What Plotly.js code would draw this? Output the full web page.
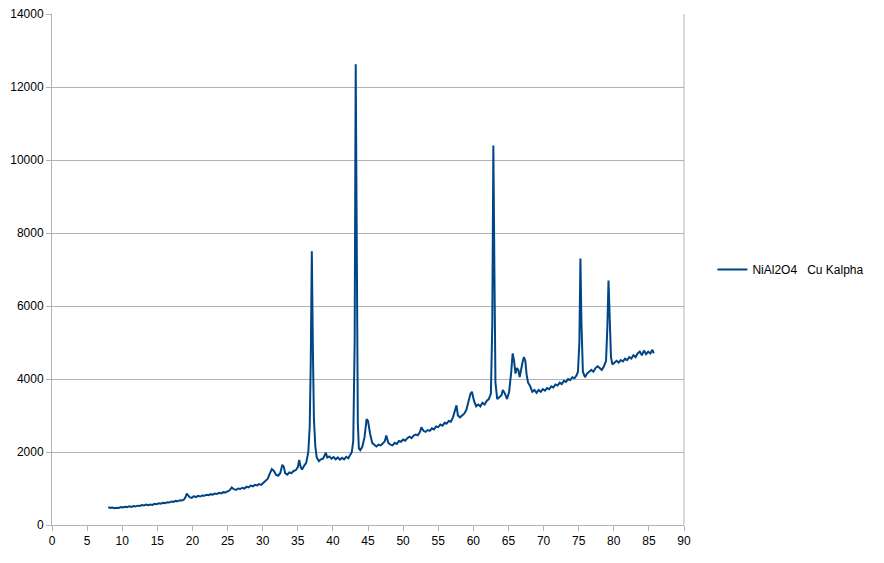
<!DOCTYPE html>
<html>
<head>
<meta charset="utf-8">
<script src="https://cdn.plot.ly/plotly-3.0.1.min.js"></script>
<style>html,body{margin:0;padding:0;background:#fff;}#chart{width:884px;height:563px;}</style>
</head>
<body>
<div id="chart"></div>
<script>
const seriesName = "NiAl2O4\u00a0\u00a0\u00a0Cu Kalpha";
const twoTheta = [
8.0,8.3,8.6,8.9,9.2,9.5,9.8,10.1,10.4,10.7,11.0,11.3,11.6,11.9,12.2,12.5,12.8,13.1,13.4,13.7,
14.0,14.3,14.6,14.9,15.2,15.5,15.8,16.1,16.4,16.7,17.0,17.3,17.6,17.9,18.2,18.5,18.8,19.0,19.2,19.4,
19.6,19.9,20.2,20.5,20.8,21.1,21.4,21.7,22.0,22.3,22.6,22.9,23.2,23.5,23.8,24.1,24.4,24.7,25.0,25.3,
25.6,25.9,26.2,26.5,26.8,27.1,27.4,27.7,28.0,28.3,28.6,28.9,29.2,29.5,29.8,30.1,30.4,30.7,31.0,31.3,
31.6,31.9,32.2,32.5,32.8,33.0,33.2,33.5,33.8,34.1,34.4,34.7,35.0,35.2,35.4,35.6,35.9,36.2,36.5,36.7,
36.85,37.0,37.15,37.3,37.5,37.7,38.0,38.3,38.6,38.8,39.0,39.2,39.5,39.8,40.1,40.4,40.7,41.0,41.3,41.6,
41.9,42.2,42.5,42.7,42.9,43.1,43.25,43.4,43.55,43.7,43.9,44.2,44.5,44.8,45.0,45.3,45.6,45.9,46.2,46.5,
46.8,47.1,47.4,47.6,47.9,48.2,48.5,48.8,49.1,49.4,49.7,50.0,50.3,50.6,50.9,51.2,51.5,51.8,52.1,52.4,
52.6,52.9,53.2,53.5,53.8,54.1,54.4,54.7,55.0,55.3,55.6,55.9,56.2,56.5,56.8,57.1,57.4,57.6,57.8,58.1,
58.4,58.7,59.0,59.3,59.6,59.8,60.1,60.4,60.7,61.0,61.3,61.6,61.9,62.2,62.5,62.7,62.85,63.0,63.15,63.4,
63.7,64.0,64.2,64.5,64.8,65.1,65.4,65.6,65.8,66.0,66.2,66.4,66.6,66.8,67.0,67.2,67.4,67.6,67.8,68.1,
68.4,68.7,69.0,69.3,69.6,69.9,70.2,70.5,70.8,71.1,71.4,71.7,72.0,72.3,72.6,72.9,73.2,73.5,73.8,74.1,
74.4,74.7,74.9,75.1,75.25,75.4,75.6,75.9,76.2,76.5,76.8,77.1,77.4,77.7,78.0,78.3,78.6,78.9,79.1,79.25,
79.4,79.6,79.8,80.1,80.4,80.7,81.0,81.3,81.6,81.9,82.2,82.5,82.8,83.1,83.4,83.7,84.0,84.3,84.6,84.9,
85.2,85.5,85.7
];
const intensity = [
490,470,480,460,475,465,490,480,500,490,510,495,520,510,530,520,545,535,560,545,
560,550,580,570,595,585,610,600,625,615,645,630,660,650,680,670,700,760,860,800,
760,740,790,765,800,780,810,800,830,815,845,830,860,850,880,865,900,890,930,950,
1030,980,960,1000,985,1020,1000,1050,1030,1080,1060,1100,1085,1120,1100,1150,1200,1260,1400,1530,
1480,1380,1350,1420,1650,1600,1420,1380,1440,1420,1480,1500,1580,1780,1600,1520,1620,1700,2000,2700,
4500,7500,4800,2900,2150,1850,1750,1800,1820,1900,1980,1850,1880,1820,1860,1800,1850,1790,1840,1800,
1870,1830,1920,2000,2300,5000,12620,6500,2800,2100,2050,2150,2400,2900,2850,2500,2250,2200,2150,2200,
2180,2230,2300,2450,2250,2200,2180,2250,2220,2300,2280,2340,2310,2380,2420,2380,2450,2480,2460,2550,
2680,2580,2550,2600,2580,2650,2620,2700,2680,2750,2720,2800,2780,2850,2830,2950,3150,3280,3000,2950,
3000,3050,3150,3350,3600,3650,3400,3250,3300,3250,3350,3300,3400,3450,3600,5500,10400,7000,3900,3450,
3500,3550,3700,3600,3450,3650,4200,4700,4500,4150,4300,4250,4050,4300,4450,4600,4500,4100,3900,3800,
3650,3700,3620,3700,3650,3720,3680,3750,3720,3800,3770,3850,3820,3900,3860,3950,3920,4000,3970,4050,
4020,4100,4200,5000,7300,5500,4200,4050,4150,4200,4250,4200,4300,4350,4300,4250,4350,4500,5500,6700,
5800,4600,4400,4450,4500,4450,4520,4480,4560,4520,4600,4560,4650,4600,4700,4750,4650,4780,4680,4750,
4700,4800,4700
];
const xTicks = [0,5,10,15,20,25,30,35,40,45,50,55,60,65,70,75,80,85,90];
const yTicks = [0,2000,4000,6000,8000,10000,12000,14000];

const trace = {
  x: twoTheta, y: intensity, type: 'scatter', mode: 'lines', name: seriesName,
  line: {color: '#004586', width: 2}
};
const layout = {
  width: 884, height: 563,
  margin: {l: 52, r: 200, t: 14, b: 38},
  paper_bgcolor: '#ffffff', plot_bgcolor: '#ffffff',
  font: {family: 'Liberation Sans, Arial, sans-serif', size: 12, color: '#000000'},
  showlegend: true,
  legend: {x: 1.045, y: 0.5, xanchor: 'left', yanchor: 'middle', font: {size: 12, color: '#000'}, bgcolor: 'rgba(0,0,0,0)'},
  xaxis: {
    range: [0, 90], tickvals: xTicks, ticktext: xTicks.map(String),
    showgrid: false, zeroline: false, showline: true, linecolor: '#b3b3b3', linewidth: 1,
    ticks: 'outside', ticklen: 5, tickcolor: '#b3b3b3', mirror: false
  },
  yaxis: {
    range: [0, 14000], tickvals: yTicks, ticktext: yTicks.map(String),
    showgrid: true, gridcolor: '#b3b3b3', gridwidth: 1, zeroline: false,
    showline: true, linecolor: '#b3b3b3', linewidth: 1,
    ticks: 'outside', ticklen: 5, tickcolor: '#b3b3b3'
  },
  shapes: [
    {type: 'line', xref: 'paper', yref: 'paper', x0: 1, x1: 1, y0: 0, y1: 1, line: {color: '#b3b3b3', width: 1}}
  ]
};
Plotly.newPlot('chart', [trace], layout, {staticPlot: true, displayModeBar: false});
</script>
</body>
</html>
